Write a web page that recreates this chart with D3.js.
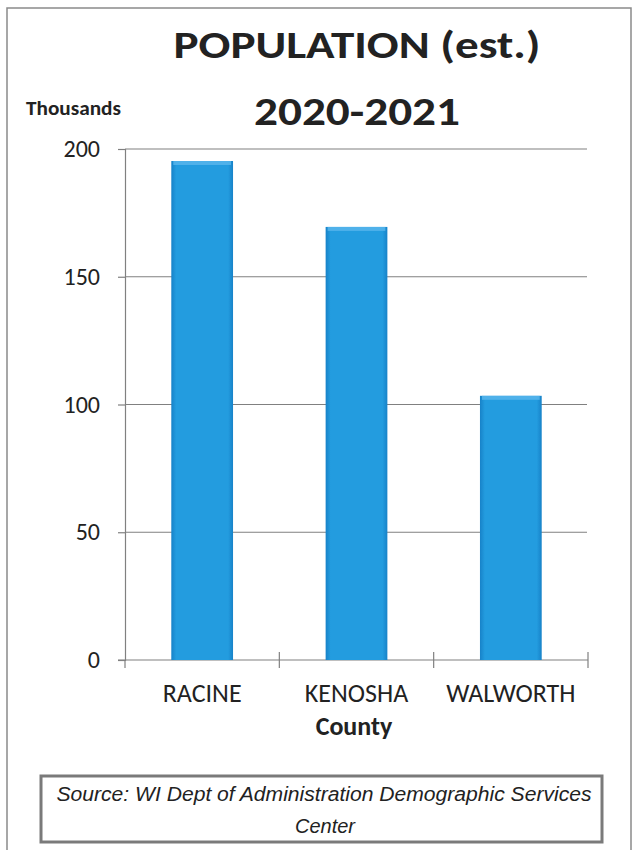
<!DOCTYPE html>
<html>
<head>
<meta charset="utf-8">
<script src="https://cdn.jsdelivr.net/npm/d3@7"></script>
<style>
  body { margin: 0; background: #fff; }
  svg { display: block; }
</style>
</head>
<body>
<div id="chart"></div>
<script>
// data (thousands)
let counties = ["RACINE", "KENOSHA", "WALWORTH"];
let population = [195.3, 169.5, 103.4];
let yTicks = [0, 50, 100, 150, 200];

let width = 633, height = 850;
let margin = {left: 125, right: 633 - 588, top: 149, bottom: 850 - 660};
let font = "Carlito, Lato, sans-serif";

let svg = d3.select("#chart")
  .append("svg")
  .attr("width", width)
  .attr("height", height);

// bar gradient, gives the bevel look
let defs = svg.append("defs");
let grad = defs.append("linearGradient")
  .attr("id", "barGrad")
  .attr("x1", "0%").attr("x2", "100%")
  .attr("y1", "0%").attr("y2", "0%");
grad.append("stop").attr("offset", "0%").attr("stop-color", "#1782c8");
grad.append("stop").attr("offset", "8%").attr("stop-color", "#239cdf");
grad.append("stop").attr("offset", "92%").attr("stop-color", "#239cdf");
grad.append("stop").attr("offset", "100%").attr("stop-color", "#1782c8");

// outer frame
svg.append("rect")
  .attr("x", 7).attr("y", 8)
  .attr("width", 624).attr("height", 850)
  .attr("fill", "none")
  .attr("stroke", "#8a8a8a")
  .attr("stroke-width", 1.5);

let x = d3.scaleBand()
  .domain(counties)
  .range([margin.left, width - margin.right])
  .paddingInner(0.6)
  .paddingOuter(0.3);

let y = d3.scaleLinear()
  .domain([0, 200])
  .range([height - margin.bottom, margin.top]);

// gridlines
svg.append("g")
  .selectAll("line")
  .data(yTicks.filter(d => d > 0))
  .enter()
  .append("line")
  .attr("x1", margin.left)
  .attr("x2", 587)
  .attr("y1", d => y(d))
  .attr("y2", d => y(d))
  .attr("stroke", "#808080")
  .attr("stroke-width", 1.2);

// y axis
let yAxis = svg.append("g")
  .attr("transform", "translate(" + margin.left + ",0)")
  .call(d3.axisLeft(y).tickValues(yTicks).tickSize(7).tickPadding(18));
yAxis.selectAll("path, line").attr("stroke", "#808080").attr("stroke-width", 1.2);
yAxis.selectAll("text")
  .attr("font-family", font)
  .attr("font-size", 24)
  .attr("fill", "#222");

// x axis line with crossing ticks at the band edges
let xAxis = svg.append("g");
let edges = counties.map(d => x(d) - x.step() * x.paddingInner() / 2);
edges[0] = margin.left;
edges.push(width - margin.right);
xAxis.append("line")
  .attr("x1", margin.left - 7).attr("x2", width - margin.right)
  .attr("y1", y(0)).attr("y2", y(0))
  .attr("stroke", "#808080").attr("stroke-width", 1.2);
xAxis.selectAll(".tk")
  .data(edges)
  .enter()
  .append("line")
  .attr("class", "tk")
  .attr("x1", d => d).attr("x2", d => d)
  .attr("y1", (d, i) => i === 0 ? y(0) : y(0) - 8)
  .attr("y2", y(0) + 8)
  .attr("stroke", "#808080").attr("stroke-width", 1.2);

xAxis.selectAll(".lbl")
  .data(counties)
  .enter()
  .append("text")
  .attr("class", "lbl")
  .attr("x", d => x(d) + x.bandwidth() / 2)
  .attr("y", 702)
  .attr("text-anchor", "middle")
  .attr("font-family", font)
  .attr("font-size", 26)
  .attr("fill", "#222")
  .text(d => d);

// bars
let bars = svg.append("g")
  .selectAll("g")
  .data(counties)
  .enter()
  .append("g");

bars.append("rect")
  .attr("x", d => x(d))
  .attr("y", (d, i) => y(population[i]))
  .attr("width", x.bandwidth())
  .attr("height", (d, i) => y(0) - y(population[i]))
  .attr("fill", "url(#barGrad)");

// top bevel highlight
bars.append("rect")
  .attr("x", d => x(d) + 2)
  .attr("y", (d, i) => y(population[i]))
  .attr("width", x.bandwidth() - 4)
  .attr("height", 4)
  .attr("fill", "#5ab6ec")
  .attr("opacity", 0.8);

// titles
svg.append("text")
  .attr("x", 357)
  .attr("y", 58)
  .attr("text-anchor", "middle")
  .attr("font-family", font)
  .attr("font-weight", "bold")
  .attr("font-size", 39)
  .attr("textLength", 367)
  .attr("lengthAdjust", "spacingAndGlyphs")
  .attr("fill", "#222")
  .text("POPULATION (est.)");

svg.append("text")
  .attr("x", 357)
  .attr("y", 125)
  .attr("text-anchor", "middle")
  .attr("font-family", font)
  .attr("font-weight", "bold")
  .attr("font-size", 40)
  .attr("textLength", 206)
  .attr("lengthAdjust", "spacingAndGlyphs")
  .attr("fill", "#222")
  .text("2020-2021");

svg.append("text")
  .attr("x", 26)
  .attr("y", 115)
  .attr("font-family", font)
  .attr("font-weight", "bold")
  .attr("font-size", 20)
  .attr("textLength", 95)
  .attr("lengthAdjust", "spacingAndGlyphs")
  .attr("fill", "#222")
  .text("Thousands");

svg.append("text")
  .attr("x", 354)
  .attr("y", 735)
  .attr("text-anchor", "middle")
  .attr("font-family", font)
  .attr("font-weight", "bold")
  .attr("font-size", 26)
  .attr("fill", "#222")
  .text("County");

// source box
svg.append("rect")
  .attr("x", 41).attr("y", 776)
  .attr("width", 561).attr("height", 66)
  .attr("fill", "#fff")
  .attr("stroke", "#7a7a7a")
  .attr("stroke-width", 3);

let src = svg.append("text")
  .attr("font-family", "'Liberation Sans', Arial, sans-serif")
  .attr("font-style", "italic")
  .attr("font-size", 20)
  .attr("fill", "#222")
  .attr("text-anchor", "middle");
src.append("tspan").attr("x", 324).attr("y", 801)
  .attr("textLength", 535)
  .attr("lengthAdjust", "spacingAndGlyphs")
  .text("Source: WI Dept of Administration Demographic Services");
src.append("tspan").attr("x", 325).attr("y", 833)
  .text("Center");
</script>
</body>
</html>
